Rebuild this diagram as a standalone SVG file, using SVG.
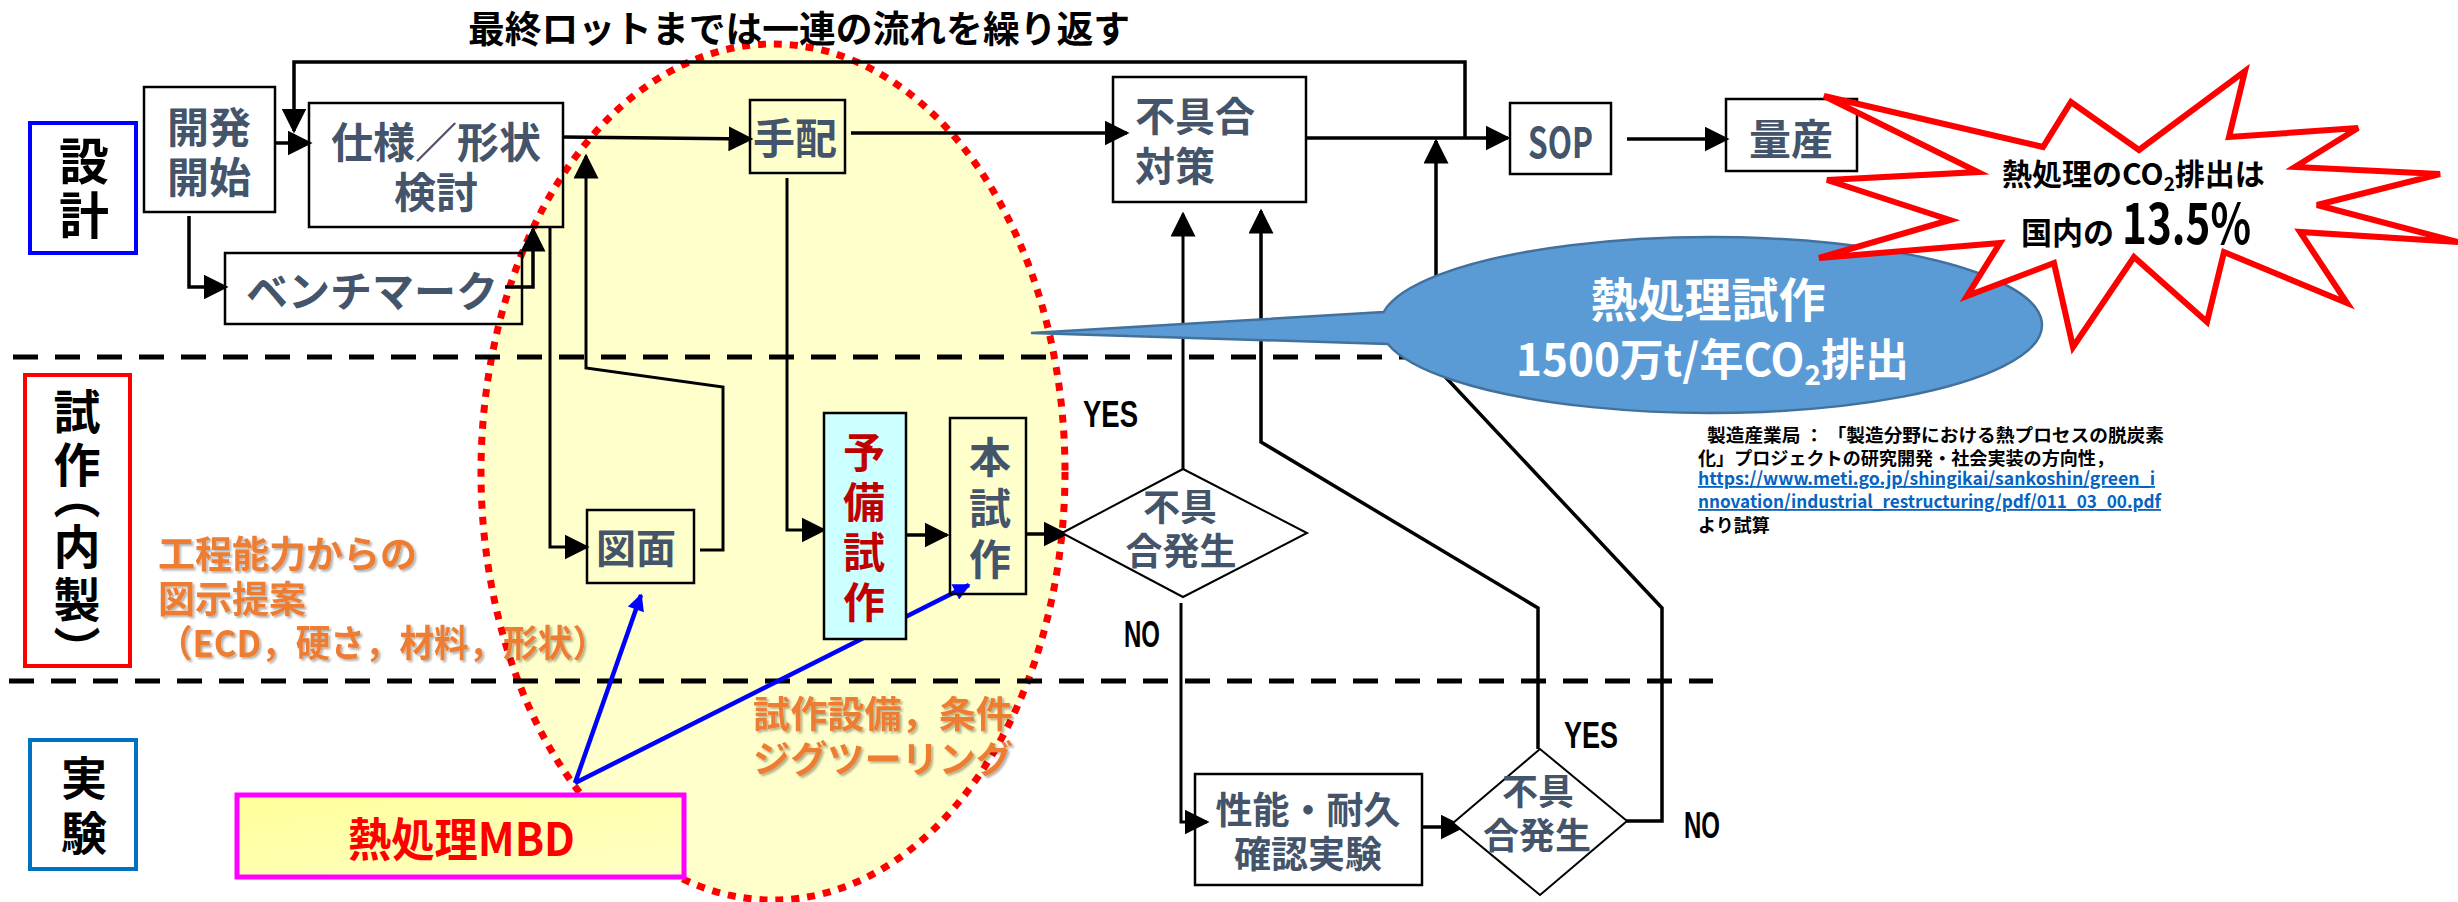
<svg xmlns="http://www.w3.org/2000/svg" width="2458" height="902" viewBox="0 0 2458 902">
<defs>
<style>
.jp{font-family:"Noto Sans CJK JP","Noto Sans CJK SC",sans-serif;font-weight:700}
.lat{font-family:"Liberation Sans",Arial,sans-serif;font-weight:700}
.box{fill:none;stroke:#000;stroke-width:2.5}
.nt{fill:#44546A}
.con{fill:none;stroke:#000;stroke-width:3.5}
.thin{stroke-width:3}
.sep{fill:none;stroke:#000;stroke-width:5;stroke-dasharray:25 17}
.orange{fill:#ED7D31;font-size:37px;filter:url(#sh)}
.vert{writing-mode:vertical-rl}
.lbl{fill:#000;font-size:37px}
.ref{fill:#000;font-size:18px}
.url{fill:#0563C1;font-size:18px;text-decoration:underline}
</style>
<marker id="ah" viewBox="0 0 10 10" refX="9" refY="5" markerUnits="userSpaceOnUse" markerWidth="25" markerHeight="25" orient="auto"><path d="M0,0 L10,5 L0,10 z" fill="#000"/></marker>
<marker id="ahb" viewBox="0 0 10 10" refX="9" refY="5" markerUnits="userSpaceOnUse" markerWidth="24" markerHeight="17" orient="auto"><path d="M0,0 L10,5 L0,10 z" fill="#0000FF"/></marker>
<linearGradient id="mbdfill" x1="0" y1="0" x2="1" y2="1"><stop offset="0" stop-color="#FFFF99"/><stop offset="1" stop-color="#FFFFC8"/></linearGradient>
<filter id="sh" x="-5%" y="-20%" width="115%" height="150%"><feDropShadow dx="2" dy="2" stdDeviation="1.2" flood-color="#000" flood-opacity="0.3"/></filter>
</defs>
<rect width="2458" height="902" fill="#fff"/>

<g id="highlight">
<ellipse cx="773" cy="472" rx="292" ry="428" fill="#FFFFCC" stroke="#FF0000" stroke-width="7" stroke-dasharray="8 8"/>
</g>

<g id="separators">
<line class="sep" x1="13" y1="357" x2="1500" y2="357"/>
<line class="sep" x1="9" y1="681" x2="1713" y2="681"/>
</g>

<g id="title">
<text class="jp" x="468" y="43" font-size="37" textLength="662" lengthAdjust="spacingAndGlyphs" fill="#000">最終ロットまでは一連の流れを繰り返す</text>
</g>

<g id="connectors">
<path class="con" d="M1465,138 V62 H294 V131" marker-end="url(#ah)"/>
<path class="con" d="M275,143 H310" marker-end="url(#ah)"/>
<path class="con" d="M189,216 V287 H226" marker-end="url(#ah)"/>
<path class="con" d="M505,287 H533 V229" marker-end="url(#ah)"/>
<path class="con" d="M563,137 L751,139" marker-end="url(#ah)"/>
<path class="con thin" d="M550,227 V547 H587" marker-end="url(#ah)"/>
<path class="con thin" d="M700,550 H723 V387 L586,368 V156" marker-end="url(#ah)"/>
<path class="con thin" d="M787,178 V530 H824" marker-end="url(#ah)"/>
<path class="con" d="M851,133 H1127" marker-end="url(#ah)"/>
<path class="con" d="M906,535 H947" marker-end="url(#ah)"/>
<path class="con" d="M1026,534 H1066" marker-end="url(#ah)"/>
<path class="con" d="M1307,138 H1508" marker-end="url(#ah)"/>
<path class="con" d="M1627,139 H1727" marker-end="url(#ah)"/>
<path class="con thin" d="M1183,469 V214" marker-end="url(#ah)"/>
<path class="con thin" d="M1181,603 V822 H1207" marker-end="url(#ah)"/>
<path class="con" d="M1422,827 H1463" marker-end="url(#ah)"/>
<path class="con" d="M1538,749 V608 L1261,442 V211" marker-end="url(#ah)"/>
<path class="con" d="M1616,821 H1662 V608 L1436,367 V141" marker-end="url(#ah)"/>
<path d="M575,783 L641,595" fill="none" stroke="#0000FF" stroke-width="4.5" marker-end="url(#ahb)"/>
<path d="M575,783 L969,585" fill="none" stroke="#0000FF" stroke-width="4.5" marker-end="url(#ahb)"/>
<text class="lat lbl" x="1083" y="427" textLength="55" lengthAdjust="spacingAndGlyphs">YES</text>
<text class="lat lbl" x="1124" y="647" textLength="36" lengthAdjust="spacingAndGlyphs">NO</text>
<text class="lat lbl" x="1564" y="748" textLength="54" lengthAdjust="spacingAndGlyphs">YES</text>
<text class="lat lbl" x="1684" y="838" textLength="36" lengthAdjust="spacingAndGlyphs">NO</text>
</g>

<g id="lane-design">
<rect x="30" y="123" width="106" height="130" fill="#fff" stroke="#0000FF" stroke-width="4"/>
<text class="jp vert" x="84" y="136" font-size="50" letter-spacing="4" fill="#000">設計</text>
</g>
<g id="lane-proto">
<rect x="25" y="375" width="105" height="291" fill="#fff" stroke="#FF0000" stroke-width="4"/>
<text class="jp vert" x="77" font-size="47" fill="#000"><tspan y="388">試</tspan><tspan y="441">作</tspan><tspan y="472">︵</tspan><tspan y="523">内</tspan><tspan y="576">製</tspan><tspan y="626">︶</tspan></text>
</g>
<g id="lane-test">
<rect x="30" y="740" width="106" height="129" fill="#fff" stroke="#0070C0" stroke-width="4"/>
<text class="jp vert" x="84" y="755" font-size="46" letter-spacing="9" fill="#000">実験</text>
</g>

<g id="n-start">
<rect class="box" x="144" y="87" width="131" height="125"/>
<text class="jp nt" x="209" y="143" font-size="42" text-anchor="middle">開発</text>
<text class="jp nt" x="209" y="193" font-size="42" text-anchor="middle">開始</text>
</g>
<g id="n-spec">
<rect class="box" x="309" y="103" width="254" height="124"/>
<text class="jp nt" x="436" y="158" font-size="42" text-anchor="middle">仕様／形状</text>
<text class="jp nt" x="436" y="208" font-size="42" text-anchor="middle">検討</text>
</g>
<g id="n-bench">
<rect class="box" x="225" y="253" width="297" height="71"/>
<text class="jp nt" x="372" y="307" font-size="42" text-anchor="middle">ベンチマーク</text>
</g>
<g id="n-order">
<rect class="box" x="750" y="100" width="95" height="73"/>
<text class="jp nt" x="795" y="154" font-size="42" text-anchor="middle">手配</text>
</g>
<g id="n-fix">
<rect class="box" x="1113" y="77" width="193" height="125"/>
<text class="jp nt" x="1135" y="131" font-size="40">不具合</text>
<text class="jp nt" x="1135" y="181" font-size="40">対策</text>
</g>
<g id="n-sop">
<rect class="box" x="1510" y="103" width="101" height="71"/>
<text class="jp nt" x="1528" y="158" font-size="42" textLength="65" lengthAdjust="spacingAndGlyphs">SOP</text>
</g>
<g id="n-mass">
<rect class="box" x="1726" y="99" width="131" height="72"/>
<text class="jp nt" x="1791" y="155" font-size="42" text-anchor="middle">量産</text>
</g>
<g id="n-drawing">
<rect class="box" x="587" y="510" width="107" height="73"/>
<text class="jp nt" x="636" y="563" font-size="40" text-anchor="middle">図面</text>
</g>
<g id="n-pretrial">
<rect x="824" y="413" width="82" height="226" fill="#CCFFFF" stroke="#000" stroke-width="2.5"/>
<text class="jp vert" x="864" y="431" font-size="42" letter-spacing="8" fill="#C00000">予備試作</text>
</g>
<g id="n-trial">
<rect class="box" x="950" y="418" width="76" height="176"/>
<text class="jp nt vert" x="990" y="436" font-size="42" letter-spacing="9">本試作</text>
</g>
<g id="n-check1">
<polygon points="1062,533 1183,469 1307,533 1183,597" fill="#fff" stroke="#000" stroke-width="2"/>
<text class="jp nt" x="1180" y="521" font-size="37" text-anchor="middle">不具</text>
<text class="jp nt" x="1181" y="565" font-size="37" text-anchor="middle">合発生</text>
</g>
<g id="n-test">
<rect class="box" x="1195" y="774" width="227" height="111"/>
<text class="jp nt" x="1308" y="824" font-size="37" text-anchor="middle">性能・耐久</text>
<text class="jp nt" x="1308" y="868" font-size="37" text-anchor="middle">確認実験</text>
</g>
<g id="n-check2">
<polygon points="1453,823 1540,749 1627,821 1540,895" fill="#fff" stroke="#000" stroke-width="2"/>
<text class="jp nt" x="1538" y="805" font-size="36" text-anchor="middle">不具</text>
<text class="jp nt" x="1537" y="849" font-size="36" text-anchor="middle">合発生</text>
</g>
<g id="n-mbd">
<rect x="237" y="795" width="447" height="82" fill="url(#mbdfill)" stroke="#FF00FF" stroke-width="5"/>
<text class="jp" x="348" y="856" font-size="46" textLength="227" lengthAdjust="spacingAndGlyphs" fill="#FF0000">熱処理MBD</text>
</g>

<g id="notes-orange">
<text class="jp orange" x="158" y="568">工程能力からの</text>
<text class="jp orange" x="158" y="613">図示提案</text>
<text class="jp orange" x="158" y="657" textLength="449" lengthAdjust="spacingAndGlyphs">（ECD，硬さ，材料，形状）</text>
<text class="jp orange" x="753" y="728" textLength="260" lengthAdjust="spacingAndGlyphs">試作設備，条件</text>
<text class="jp orange" x="753" y="773" textLength="260" lengthAdjust="spacingAndGlyphs">ジグツーリング</text>
</g>

<g id="callout-bubble">
<path d="M1031,333 L1383.6,312 A331,88 0 1 1 1387.8,344 Z" fill="#5B9BD5" stroke="#41719C" stroke-width="2.5"/>
<text class="jp" x="1708" y="317" font-size="47" text-anchor="middle" fill="#fff">熱処理試作</text>
<text class="jp" x="1516" y="376" font-size="44" fill="#fff">1500万t/年CO<tspan font-size="28" dy="9">2</tspan><tspan dy="-9">排出</tspan></text>
</g>

<g id="callout-star">
<polygon points="2245,71 2229,137 2358,128 2295,167 2440,174 2317,205 2458,242 2300,232 2347,303 2224,252 2207,322 2134,257 2073,347 2054,263 1967,296 2000,243 1819,258 1950,220 1827,180 1978,172 1824,96 2043,147 2071,102 2139,150" fill="#fff" stroke="#FF0000" stroke-width="6"/>
<text class="jp" x="2002" y="185" font-size="30" fill="#000">熱処理のCO<tspan font-size="19" dy="6">2</tspan><tspan dy="-6">排出は</tspan></text>
<text class="jp" x="2021" y="244" font-size="31" fill="#000">国内の<tspan x="2122" font-size="56" textLength="129" lengthAdjust="spacingAndGlyphs">13.5%</tspan></text>
</g>

<g id="source">
<text class="jp ref" x="1707" y="442" textLength="457" lengthAdjust="spacingAndGlyphs">製造産業局 ： 「製造分野における熱プロセスの脱炭素</text>
<text class="jp ref" x="1698" y="465" textLength="416" lengthAdjust="spacingAndGlyphs">化」プロジェクトの研究開発・社会実装の方向性，</text>
<text class="jp url" x="1698" y="485" textLength="457" lengthAdjust="spacingAndGlyphs">https://www.meti.go.jp/shingikai/sankoshin/green_i</text>
<text class="jp url" x="1698" y="508" textLength="463" lengthAdjust="spacingAndGlyphs">nnovation/industrial_restructuring/pdf/011_03_00.pdf</text>
<text class="jp ref" x="1698" y="532">より試算</text>
</g>
</svg>
